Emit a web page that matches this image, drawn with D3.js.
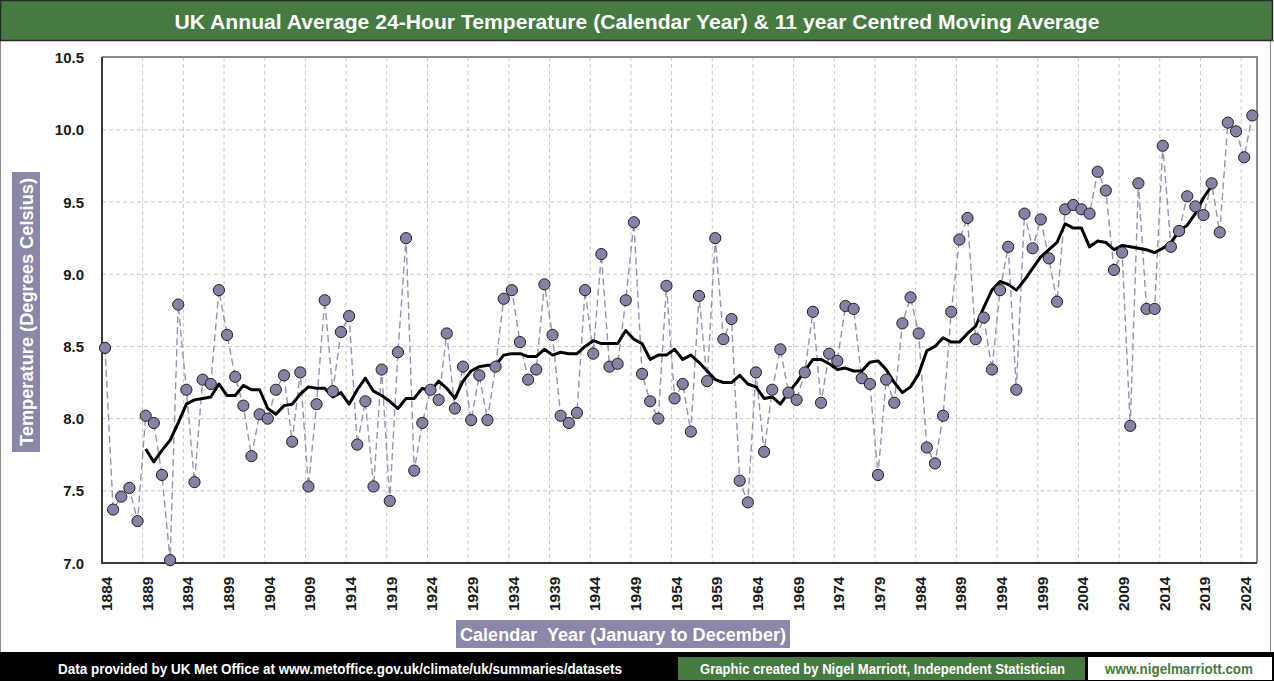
<!DOCTYPE html>
<html lang="en">
    <head>
        <meta charset="utf-8">
        <title>UK Annual Average Temperature</title>
        <script type="text/javascript" src="https://d3js.org/d3.v7.min.js"></script>
        <style>
          body { margin: 0; background: #fff; }
        </style>
    </head>
    <body>
        <script type="text/javascript">
          // annual mean temperature, 1884 to 2025
          const firstYear = 1884
          const temps = [
            8.49, 7.37, 7.46, 7.52, 7.29, 8.02, 7.97, 7.61, 7.02, 8.79,   // 1884-1893
            8.20, 7.56, 8.27, 8.24, 8.89, 8.58, 8.29, 8.09, 7.74, 8.03,   // 1894-1903
            8.00, 8.20, 8.30, 7.84, 8.32, 7.53, 8.10, 8.82, 8.19, 8.60,   // 1904-1913
            8.71, 7.82, 8.12, 7.53, 8.34, 7.43, 8.46, 9.25, 7.64, 7.97,   // 1914-1923
            8.20, 8.13, 8.59, 8.07, 8.36, 7.99, 8.30, 7.99, 8.36, 8.83,   // 1924-1933
            8.89, 8.53, 8.27, 8.34, 8.93, 8.58, 8.02, 7.97, 8.04, 8.89,   // 1934-1943
            8.45, 9.14, 8.36, 8.38, 8.82, 9.36, 8.31, 8.12, 8.00, 8.92,   // 1944-1953
            8.14, 8.24, 7.91, 8.85, 8.26, 9.25, 8.55, 8.69, 7.57, 7.42,   // 1954-1963
            8.32, 7.77, 8.20, 8.48, 8.18, 8.13, 8.32, 8.74, 8.11, 8.45,   // 1964-1973
            8.40, 8.78, 8.76, 8.28, 8.24, 7.61, 8.27, 8.11, 8.66, 8.84,   // 1974-1983
            8.59, 7.80, 7.69, 8.02, 8.74, 9.24, 9.39, 8.55, 8.70, 8.34,   // 1984-1993
            8.89, 9.19, 8.20, 9.42, 9.18, 9.38, 9.11, 8.81, 9.45, 9.48,   // 1994-2003
            9.45, 9.42, 9.71, 9.58, 9.03, 9.15, 7.95, 9.63, 8.76, 8.76,   // 2004-2013
            9.89, 9.19, 9.30, 9.54, 9.47, 9.41, 9.63, 9.29, 10.05, 9.99,  // 2014-2023
            9.81, 10.10                                                   // 2024-2025
          ]

          // 11 year centred moving average, 1889 to 2020
          const maFirstYear = 1889
          const movingAvg = [
            7.79, 7.70, 7.78, 7.85, 7.97, 8.10, 8.13, 8.14, 8.15, 8.24,   // 1889-1898
            8.16, 8.16, 8.23, 8.20, 8.20, 8.07, 8.03, 8.09, 8.10, 8.17,   // 1899-1908
            8.22, 8.21, 8.21, 8.15, 8.18, 8.10, 8.20, 8.28, 8.19, 8.16,   // 1909-1918
            8.12, 8.07, 8.14, 8.14, 8.21, 8.19, 8.26, 8.21, 8.14, 8.26,   // 1919-1928
            8.33, 8.36, 8.37, 8.37, 8.44, 8.45, 8.45, 8.43, 8.43, 8.48,   // 1929-1938
            8.44, 8.46, 8.45, 8.45, 8.50, 8.54, 8.52, 8.52, 8.52, 8.61,   // 1939-1948
            8.55, 8.52, 8.41, 8.44, 8.44, 8.48, 8.41, 8.44, 8.39, 8.33,   // 1949-1958
            8.27, 8.25, 8.25, 8.30, 8.24, 8.22, 8.14, 8.15, 8.10, 8.18,   // 1959-1968
            8.25, 8.33, 8.41, 8.41, 8.38, 8.34, 8.35, 8.33, 8.33, 8.39,   // 1969-1978
            8.40, 8.34, 8.25, 8.18, 8.22, 8.31, 8.47, 8.50, 8.56, 8.53,   // 1979-1988
            8.53, 8.59, 8.64, 8.77, 8.89, 8.95, 8.93, 8.89, 8.96, 9.04,   // 1989-1998
            9.12, 9.17, 9.22, 9.35, 9.32, 9.32, 9.19, 9.23, 9.22, 9.17,   // 1999-2008
            9.20, 9.19, 9.18, 9.17, 9.15, 9.18, 9.22, 9.30, 9.34, 9.42,   // 2009-2018
            9.53, 9.61                                                    // 2019-2020
          ]

          const yTicks = [7.0, 7.5, 8.0, 8.5, 9.0, 9.5, 10.0, 10.5]
          const xTicks = [1884, 1889, 1894, 1899, 1904, 1909, 1914, 1919, 1924, 1929,
                          1934, 1939, 1944, 1949, 1954, 1959, 1964, 1969, 1974, 1979,
                          1984, 1989, 1994, 1999, 2004, 2009, 2014, 2019, 2024]

          const w = 1274, h = 681
          const green = "#457a40"
          const lilac = "#8b87a8"
          const narrow = "'Liberation Sans Narrow', 'Liberation Sans', Arial, sans-serif"
          const bold = "'Liberation Sans', Arial, sans-serif"

          const pts = temps.map((t, i) => ({year: firstYear + i, t}))
          const ma = movingAvg.map((t, i) => ({year: maFirstYear + i, t}))

          const svg = d3.select("body")
                        .append("svg")
                        .attr("width", w)
                        .attr("height", h)

          // plot frame
          const pLeft = 102, pRight = 1257, pTop = 57, pBottom = 563
          const x = d3.scaleLinear().domain([1884, 2025]).range([105, 1252.3])
          const y = d3.scaleLinear().domain([7, 10.5]).range([pBottom, pTop + 0.7])

          // chart border
          svg.append("rect")
            .attr("x", 0.5).attr("y", 0.5)
            .attr("width", 1270).attr("height", 652)
            .attr("fill", "#fff").attr("stroke", "#8c8c8c")

          // title bar
          svg.append("rect")
            .attr("x", 0.5).attr("y", 0.5)
            .attr("width", 1272).attr("height", 40)
            .attr("fill", green).attr("stroke", "#2b2b2b").attr("stroke-width", 1.5)
          svg.append("text")
            .attr("x", w / 2).attr("y", 21)
            .attr("text-anchor", "middle").attr("dominant-baseline", "central")
            .attr("font-family", narrow).attr("font-weight", "bold").attr("font-size", 21)
            .attr("fill", "#fff")
            .attr("textLength", 925).attr("lengthAdjust", "spacingAndGlyphs")
            .text("UK Annual Average 24-Hour Temperature (Calendar Year) & 11 year Centred Moving Average")

          // gridlines
          const grid = svg.append("g")
            .attr("stroke", "#c8c8c8").attr("stroke-dasharray", "4,3").attr("stroke-width", 1)
          grid.selectAll("line.h")
            .data(yTicks.slice(1, -1))
            .join("line")
            .attr("class", "h")
            .attr("x1", pLeft).attr("x2", pRight)
            .attr("y1", d => y(d)).attr("y2", d => y(d))
          grid.selectAll("line.v")
            .data(xTicks.slice(1))
            .join("line")
            .attr("class", "v")
            .attr("x1", d => x(d) - 3).attr("x2", d => x(d) - 3)
            .attr("y1", pTop).attr("y2", pBottom)

          // plot border, top and right grey, axes dark
          svg.append("path")
            .attr("d", `M${pLeft},${pTop}H${pRight}V${pBottom}`)
            .attr("fill", "none").attr("stroke", "#8c8c8c").attr("stroke-width", 2)
          svg.append("path")
            .attr("d", `M${pLeft},${pTop}V${pBottom}H${pRight}`)
            .attr("fill", "none").attr("stroke", "#3a3a3a").attr("stroke-width", 2)

          // y tick labels
          svg.append("g")
            .selectAll("text")
            .data(yTicks)
            .join("text")
            .attr("x", 84).attr("y", d => y(d))
            .attr("text-anchor", "end").attr("dominant-baseline", "central")
            .attr("font-family", bold).attr("font-weight", "bold").attr("font-size", 15)
            .attr("fill", "#1a1a1a")
            .text(d => d.toFixed(1))

          // x tick labels, rotated
          svg.append("g")
            .selectAll("text")
            .data(xTicks)
            .join("text")
            .attr("transform", d => `translate(${x(d) + 1.5},611) rotate(-90)`)
            .attr("dominant-baseline", "central")
            .attr("font-family", bold).attr("font-weight", "bold").attr("font-size", 15.5)
            .attr("fill", "#1a1a1a")
            .text(d => d)

          // annual series: dashed link + markers
          const line = d3.line().x(d => x(d.year)).y(d => y(d.t))
          svg.append("path")
            .datum(pts)
            .attr("d", line)
            .attr("fill", "none").attr("stroke", "#9591b5")
            .attr("stroke-width", 1.4).attr("stroke-dasharray", "7,4")

          svg.append("path")
            .datum(ma)
            .attr("d", line)
            .attr("fill", "none").attr("stroke", "#000")
            .attr("stroke-width", 3).attr("stroke-linejoin", "round")

          svg.append("g")
            .selectAll("circle")
            .data(pts)
            .join("circle")
            .attr("cx", d => x(d.year)).attr("cy", d => y(d.t))
            .attr("r", 5.6)
            .attr("fill", "#8682a5").attr("stroke", "#1e1e1e").attr("stroke-width", 1)

          // axis titles
          svg.append("rect")
            .attr("x", 12).attr("y", 172).attr("width", 28).attr("height", 280)
            .attr("fill", lilac)
          svg.append("text")
            .attr("transform", "translate(27,312) rotate(-90)")
            .attr("text-anchor", "middle").attr("dominant-baseline", "central")
            .attr("font-family", narrow).attr("font-weight", "bold").attr("font-size", 18)
            .attr("fill", "#fff")
            .attr("textLength", 268).attr("lengthAdjust", "spacingAndGlyphs")
            .text("Temperature (Degrees Celsius)")

          svg.append("rect")
            .attr("x", 456).attr("y", 620).attr("width", 334).attr("height", 28)
            .attr("fill", lilac)
          svg.append("text")
            .attr("x", 623).attr("y", 635)
            .attr("text-anchor", "middle").attr("dominant-baseline", "central")
            .attr("font-family", narrow).attr("font-weight", "bold").attr("font-size", 18)
            .attr("fill", "#fff")
            .attr("textLength", 326).attr("lengthAdjust", "spacingAndGlyphs")
            .text("Calendar\u00a0 Year (January to December)")

          // footer
          svg.append("rect")
            .attr("x", 0).attr("y", 652).attr("width", w).attr("height", 29)
            .attr("fill", "#000")
          svg.append("text")
            .attr("x", 58).attr("y", 669)
            .attr("dominant-baseline", "central")
            .attr("font-family", narrow).attr("font-weight", "bold").attr("font-size", 14)
            .attr("fill", "#fff")
            .attr("textLength", 564).attr("lengthAdjust", "spacingAndGlyphs")
            .text("Data provided by UK Met Office at www.metoffice.gov.uk/climate/uk/summaries/datasets")

          svg.append("rect")
            .attr("x", 678).attr("y", 657).attr("width", 407).attr("height", 23)
            .attr("fill", green)
          svg.append("text")
            .attr("x", 700).attr("y", 669)
            .attr("dominant-baseline", "central")
            .attr("font-family", narrow).attr("font-weight", "bold").attr("font-size", 14)
            .attr("fill", "#fff")
            .attr("textLength", 365).attr("lengthAdjust", "spacingAndGlyphs")
            .text("Graphic created by Nigel Marriott, Independent Statistician")

          svg.append("rect")
            .attr("x", 1088).attr("y", 657).attr("width", 184).attr("height", 23)
            .attr("fill", "#fff")
          svg.append("text")
            .attr("x", 1105).attr("y", 669)
            .attr("dominant-baseline", "central")
            .attr("font-family", narrow).attr("font-weight", "bold").attr("font-size", 14)
            .attr("fill", green)
            .attr("textLength", 148).attr("lengthAdjust", "spacingAndGlyphs")
            .text("www.nigelmarriott.com")
        </script>
    </body>
</html>
